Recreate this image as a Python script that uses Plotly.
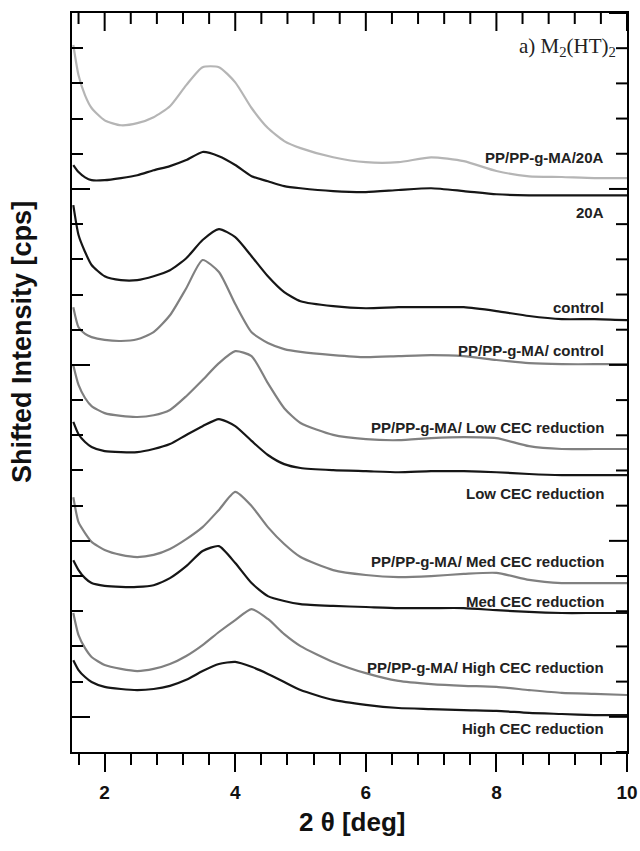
import plotly.graph_objects as go

# 2-theta grid (deg)
two_theta = [1.52, 1.6, 1.7, 1.8, 2.0, 2.25, 2.5, 2.75, 3.0, 3.25, 3.5, 3.75, 4.0,
             4.25, 4.5, 4.75, 5.0, 5.5, 6.0, 6.5, 7.0, 7.5, 8.0, 8.5, 9.0, 9.5, 10.0]

# shifted intensities
pp_20a = [2009, 1923, 1866, 1830, 1795, 1781, 1787, 1804, 1835, 1895, 1946, 1946, 1903,
          1830, 1773, 1736, 1716, 1690, 1676, 1676, 1690, 1679, 1651, 1636, 1634, 1631, 1631]
c_20a = [1668, 1648, 1633, 1625, 1625, 1631, 1639, 1653, 1665, 1682, 1705, 1693, 1668,
         1636, 1622, 1608, 1602, 1594, 1591, 1597, 1602, 1594, 1585, 1582, 1582, 1582, 1582]
control = [1554, 1469, 1421, 1384, 1352, 1341, 1341, 1352, 1369, 1403, 1455, 1486, 1463,
           1409, 1352, 1307, 1281, 1267, 1261, 1264, 1264, 1264, 1253, 1239, 1230, 1230, 1227]
pp_control = [1264, 1207, 1188, 1179, 1171, 1168, 1173, 1193, 1241, 1318, 1398, 1364, 1273,
              1193, 1162, 1145, 1137, 1128, 1122, 1125, 1128, 1125, 1114, 1105, 1102, 1102, 1102]
pp_low = [1099, 1043, 1006, 983, 963, 955, 952, 957, 972, 1011, 1057, 1105, 1139,
          1125, 1048, 977, 935, 901, 889, 886, 892, 895, 892, 869, 861, 861, 861]
low = [938, 903, 881, 867, 855, 852, 852, 861, 875, 901, 926, 946, 926,
       884, 844, 818, 807, 801, 798, 795, 798, 798, 795, 790, 787, 787, 787]
pp_med = [724, 653, 622, 597, 574, 560, 554, 560, 577, 605, 639, 688, 739,
          699, 639, 591, 554, 517, 503, 497, 500, 506, 509, 489, 480, 480, 480]
med = [545, 517, 494, 480, 472, 469, 469, 474, 494, 528, 571, 585, 537,
       480, 443, 429, 420, 415, 412, 409, 409, 409, 403, 398, 395, 395, 395]
pp_high = [395, 332, 295, 270, 247, 236, 230, 236, 250, 273, 304, 341, 375,
           406, 378, 335, 301, 256, 224, 202, 193, 188, 185, 176, 168, 165, 162]
high = [261, 233, 213, 199, 185, 179, 176, 179, 188, 205, 230, 250, 256,
        242, 222, 199, 176, 148, 134, 125, 122, 119, 117, 111, 108, 105, 105]

names = ["PP/PP-g-MA/20A", "20A", "control", "PP/PP-g-MA/ control",
         "PP/PP-g-MA/ Low CEC reduction", "Low CEC reduction",
         "PP/PP-g-MA/ Med CEC reduction", "Med CEC reduction",
         "PP/PP-g-MA/ High CEC reduction", "High CEC reduction"]
series = [pp_20a, c_20a, control, pp_control, pp_low, low, pp_med, med, pp_high, high]

# tick positions
x_ticks = [2, 4, 6, 8, 10]
x_minor = [round(1.6 + 0.4 * k, 1) for k in range(22)]
y_major = [100, 600, 1100, 1600, 2100]
y_minor = [100 * k for k in range(22)]

# styling
LIGHT, MID, DARK = "#b5b5b5", "#808080", "#161616"
colors = [LIGHT, DARK, DARK, MID, MID, DARK, MID, DARK, MID, DARK]
label_y = [1690, 1534, 1264, 1142, 923, 736, 540, 429, 241, 68]
label_x = 9.68

W, H = 640, 851
ML, MR, MT, MB = 72, 13, 13, 99
PW, PH = W - ML - MR, H - MT - MB
LONG, SHORT = 18, 11

fig = go.Figure()
for nm, ys, col in zip(names, series, colors):
    fig.add_trace(go.Scatter(x=two_theta, y=ys, mode="lines", name=nm,
                             line=dict(color=col, width=2.2, shape="spline", smoothing=0.6),
                             showlegend=False))

for nm, ly in zip(names, label_y):
    fig.add_annotation(x=label_x, y=ly, xref="x", yref="y", text=nm, showarrow=False,
                       xanchor="right", yanchor="middle",
                       font=dict(family="Liberation Sans", size=15, color="#222", weight="bold"))

fig.add_annotation(x=0.984, y=0.954, xref="paper", yref="paper",
                   text="a) M<sub>2</sub>(HT)<sub>2</sub>", showarrow=False,
                   xanchor="right", yanchor="middle",
                   font=dict(family="Liberation Serif", size=21, color="#222"))

fig.add_annotation(x=-0.09, y=0.555, xref="paper", yref="paper",
                   text="Shifted Intensity [cps]", showarrow=False, textangle=-90,
                   xanchor="center", yanchor="middle",
                   font=dict(family="Liberation Sans", size=27, color="#111", weight="bold"))
fig.add_annotation(x=0.505, y=-0.095, xref="paper", yref="paper",
                   text="2 θ [deg]", showarrow=False,
                   xanchor="center", yanchor="middle",
                   font=dict(family="Liberation Sans", size=26, color="#111", weight="bold"))

# inward ticks on top and right frame edges
tick_line = dict(color="black", width=2)
for v in x_minor:
    ln = LONG if v in x_ticks else SHORT
    fig.add_shape(type="line", xref="x", yref="paper", x0=v, x1=v,
                  y0=1, y1=1 - ln / PH, line=tick_line, layer="above")
for v in y_minor:
    ln = LONG if v in y_major else SHORT
    fig.add_shape(type="line", xref="paper", yref="y", x0=1, x1=1 - ln / PW,
                  y0=v, y1=v, line=tick_line, layer="above")

axis_common = dict(showgrid=False, zeroline=False, linecolor="black", linewidth=2,
                   tickcolor="black", tickwidth=2, automargin=False)

fig.update_layout(
    width=W, height=H, autosize=False,
    margin=dict(l=ML, r=MR, t=MT, b=MB, autoexpand=False),
    paper_bgcolor="white", plot_bgcolor="white",
    xaxis=dict(range=[1.5, 10], tickvals=x_ticks, ticktext=[str(v) for v in x_ticks],
               ticks="outside", ticklen=LONG, showline=True, mirror=True,
               ticklabelstandoff=4,
               tickfont=dict(family="Liberation Sans", size=19, color="#111", weight="bold"),
               minor=dict(ticks="outside", ticklen=SHORT, tickwidth=2, tickcolor="black",
                          dtick=0.4, tick0=0),
               **axis_common),
    yaxis=dict(range=[0, 2100], tick0=100, dtick=500, ticks="inside", ticklen=LONG,
               showticklabels=False, showline=True, mirror=True,
               minor=dict(ticks="inside", ticklen=SHORT, tickwidth=2, tickcolor="black",
                          dtick=100, tick0=0),
               **axis_common),
)

fig.write_html("out.html", config={"responsive": False})
